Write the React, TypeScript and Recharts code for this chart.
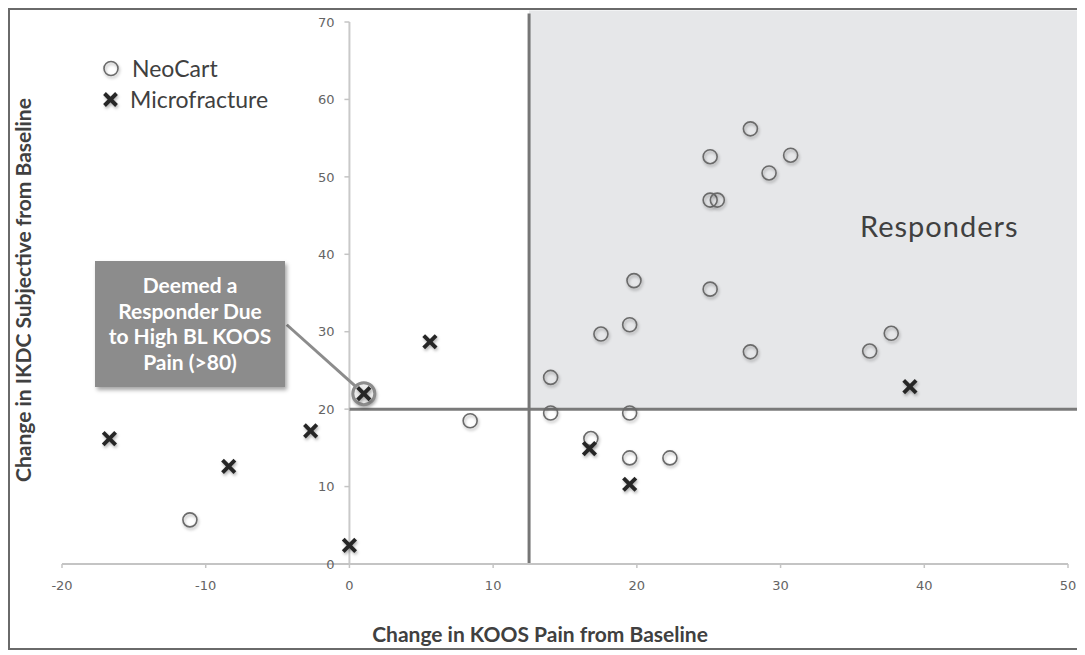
import React from 'react';
import { ScatterChart, Scatter, XAxis, YAxis, ReferenceArea, ReferenceLine, ReferenceDot } from 'recharts';

// NeoCart patients: change in KOOS pain (x) and IKDC subjective (y)
const neoCartKoos = [-11.1, 8.4, 14.0, 14.0, 16.8, 17.5, 19.5, 19.5, 19.5, 19.8, 22.3, 25.1, 27.9, 30.7, 29.2, 25.1, 25.6, 25.1, 27.9, 36.2, 37.7];
const neoCartIkdc = [5.7, 18.5, 24.1, 19.5, 16.2, 29.7, 30.9, 19.5, 13.7, 36.6, 13.7, 52.6, 56.2, 52.8, 50.5, 47.0, 47.0, 35.5, 27.4, 27.5, 29.8];

// Microfracture patients
const microKoos = [-16.7, -8.4, -2.7, 0.0, 1.0, 5.6, 16.7, 19.5, 39.0];
const microIkdc = [16.2, 12.6, 17.2, 2.4, 22.0, 28.7, 14.9, 10.3, 22.9];

const xTicks = [-20, -10, 0, 10, 20, 30, 40, 50];
const yTicks = [0, 10, 20, 30, 40, 50, 60, 70];

// responder thresholds
const koosCut = 12.5;
const ikdcCut = 20;
const highlighted = { x: 1.0, y: 22.0 };

const neoCart = neoCartKoos.map((x, i) => ({ x, y: neoCartIkdc[i] }));
const micro = microKoos.map((x, i) => ({ x, y: microIkdc[i] }));

const shadow = 'drop-shadow(1px 2px 1.5px rgba(0,0,0,0.3))';
const titleFont = 'Lato, "Open Sans", sans-serif';
const tickStyle = { fontSize: 13, fill: '#646464', fontFamily: '"DejaVu Sans", sans-serif' };

const CircleMark = (props: any) => (
  <circle cx={props.cx} cy={props.cy} r={7} fill="none" stroke="#6a6a6a" strokeWidth={1.6} style={{ filter: shadow }} />
);

const CrossMark = (props: any) => {
  const { cx, cy } = props;
  const s = 6.2;
  return (
    <g style={{ filter: shadow }}>
      <line x1={cx - s} y1={cy - s} x2={cx + s} y2={cy + s} stroke="#262626" strokeWidth={3.9} />
      <line x1={cx - s} y1={cy + s} x2={cx + s} y2={cy - s} stroke="#262626" strokeWidth={3.9} />
    </g>
  );
};

const YTick = (value: number) => (p: any) => (
  <g>
    <line x1={p.cx - 5} x2={p.cx} y1={p.cy} y2={p.cy} stroke="#c4c4c4" strokeWidth={1.5} />
    <text x={p.cx - 15} y={p.cy} dy="0.36em" textAnchor="end" {...tickStyle}>{value}</text>
  </g>
);

export default function App() {
  return (
    <div style={{ position: 'relative', width: 1077, height: 642, background: '#fff' }}>
      <ScatterChart width={1077} height={642} margin={{ top: 14, right: 17, left: 54, bottom: 46 }}>
        <XAxis
          type="number"
          dataKey="x"
          domain={[-20, 50]}
          ticks={xTicks}
          allowDataOverflow
          height={40}
          axisLine={{ stroke: '#c4c4c4', strokeWidth: 2 }}
          tickLine={{ stroke: '#c4c4c4', strokeWidth: 1.5 }}
          tickSize={4}
          tickMargin={13}
          tick={tickStyle}
        />
        <YAxis type="number" dataKey="y" domain={[0, 70]} allowDataOverflow hide />
        <ReferenceArea x1={koosCut} x2={51.3} y1={ikdcCut} y2={71.5} ifOverflow="visible" fill="#e6e7e9" fillOpacity={1} stroke="none" />
        <ReferenceLine x={0} stroke="#c9c9c9" strokeWidth={2} />
        {yTicks.map((t) => (
          <ReferenceDot key={t} x={0} y={t} r={0} ifOverflow="visible" shape={YTick(t)} />
        ))}
        <ReferenceLine segment={[{ x: 0, y: ikdcCut }, { x: 51.3, y: ikdcCut }]} ifOverflow="visible" stroke="#7a7a7a" strokeWidth={3} />
        <ReferenceLine segment={[{ x: koosCut, y: 0 }, { x: koosCut, y: 71.1 }]} ifOverflow="visible" stroke="#767676" strokeWidth={3} />
        <ReferenceLine segment={[{ x: -4.36, y: 30.9 }, { x: 0.45, y: 22.9 }]} ifOverflow="visible" stroke="#8c8c8c" strokeWidth={3} />
        <ReferenceDot x={highlighted.x} y={highlighted.y} r={11} fill="#ececec" stroke="#8c8c8c" strokeWidth={3} style={{ filter: shadow }} />
        <Scatter name="NeoCart" data={neoCart} shape={CircleMark} isAnimationActive={false} />
        <Scatter name="Microfracture" data={micro} shape={CrossMark} isAnimationActive={false} />
      </ScatterChart>

      {/* legend */}
      <svg style={{ position: 'absolute', left: 93, top: 50, filter: shadow }} width={22} height={54}>
        <circle cx={10} cy={10.5} r={7} fill="none" stroke="#6a6a6a" strokeWidth={1.6} />
        <g stroke="#262626" strokeWidth={3.9}>
          <line x1={3.5} y1={35.5} x2={15.5} y2={47.5} />
          <line x1={3.5} y1={47.5} x2={15.5} y2={35.5} />
        </g>
      </svg>
      <div style={{ position: 'absolute', left: 122, top: 45, fontFamily: titleFont, fontSize: 23, color: '#404040', lineHeight: '31px' }}>
        <div style={{ marginLeft: 2 }}>NeoCart</div>
        <div>Microfracture</div>
      </div>

      {/* annotation */}
      <div
        style={{
          position: 'absolute', left: 87, top: 253, width: 190, height: 126, background: '#8c8c8c',
          boxShadow: '2px 3px 4px rgba(0,0,0,0.35)', color: '#fff', fontFamily: titleFont, fontWeight: 700,
          fontSize: 21, lineHeight: '25.6px', textAlign: 'center', paddingTop: 11, boxSizing: 'border-box',
        }}
      >
        Deemed a<br />Responder Due<br />to High BL KOOS<br />Pain (&gt;80)
      </div>

      <div style={{ position: 'absolute', left: 852, top: 200, fontFamily: titleFont, fontSize: 29, letterSpacing: 1, color: '#404040' }}>Responders</div>

      {/* axis titles */}
      <div style={{ position: 'absolute', left: 532, top: 626, transform: 'translate(-50%, -50%)', whiteSpace: 'nowrap', fontFamily: titleFont, fontWeight: 700, fontSize: 21, lineHeight: '24px', color: '#404040' }}>
        Change in KOOS Pain from Baseline
      </div>
      <div style={{ position: 'absolute', left: 14, top: 282, transform: 'translate(-50%, -50%) rotate(-90deg)', whiteSpace: 'nowrap', fontFamily: titleFont, fontWeight: 700, fontSize: 21, color: '#404040' }}>
        Change in IKDC Subjective from Baseline
      </div>

      {/* frame */}
      <div style={{ position: 'absolute', left: 0, top: 0, width: 1077, height: 642, boxSizing: 'border-box', borderTop: '2px solid #6a6a6a', borderLeft: '2px solid #6a6a6a', borderBottom: '2px solid #6a6a6a', pointerEvents: 'none' }} />
    </div>
  );
}
